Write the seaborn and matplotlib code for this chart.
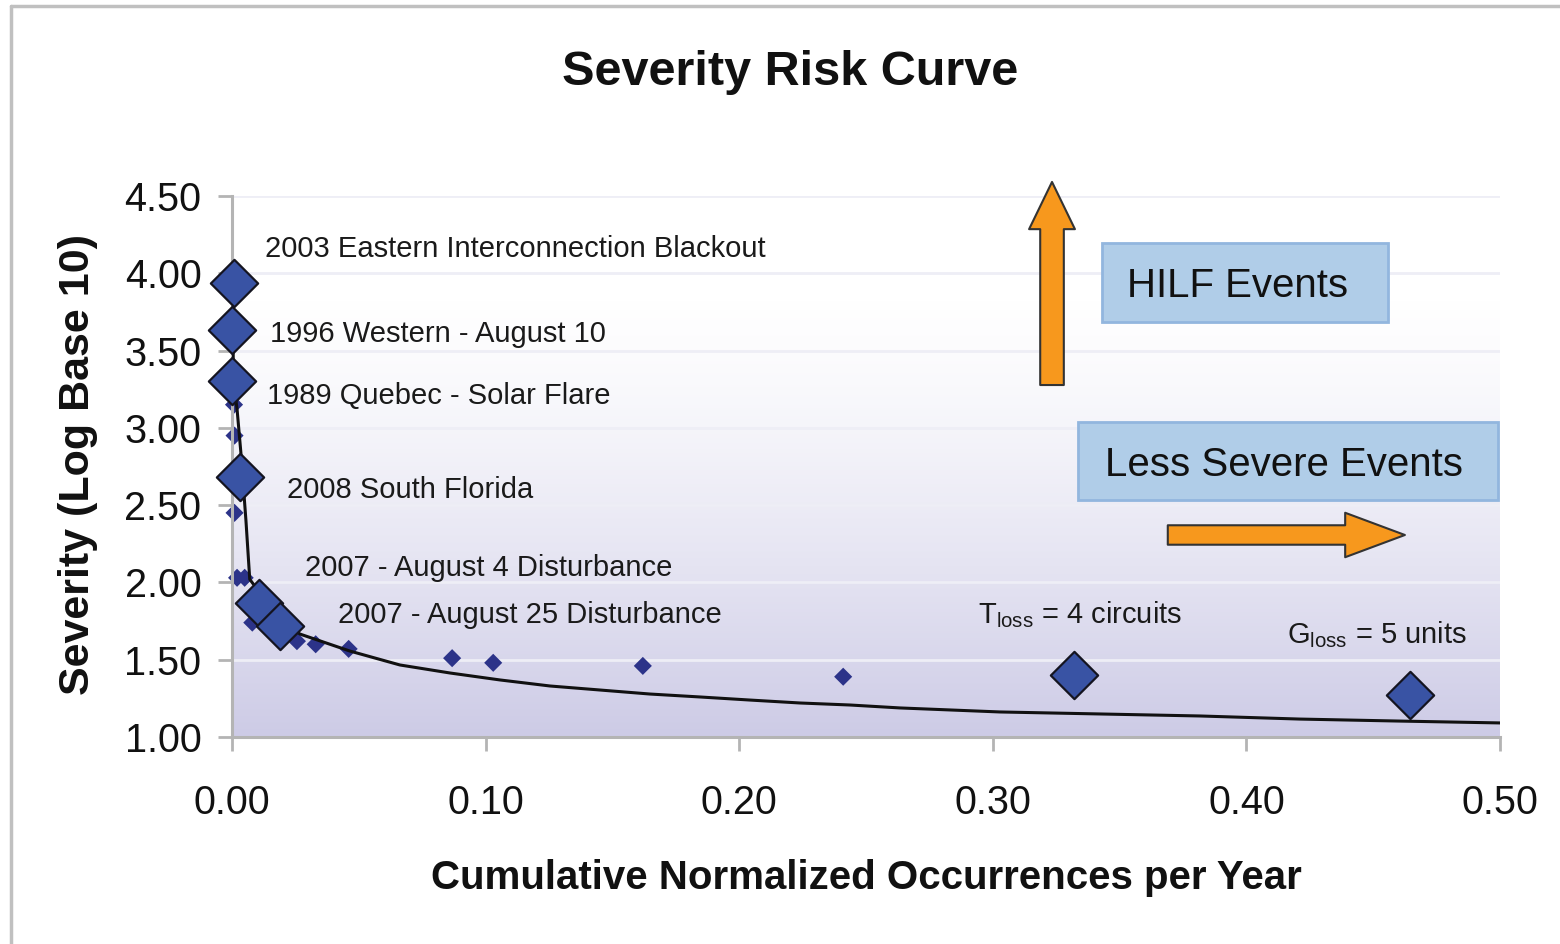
import matplotlib
matplotlib.use("Agg")
import numpy as np
import pandas as pd
import matplotlib.pyplot as plt
import seaborn as sns
from matplotlib import font_manager
from matplotlib.colors import LinearSegmentedColormap
from matplotlib.patches import Rectangle
from matplotlib.lines import Line2D

# ---- data -------------------------------------------------------------
event_names = [
    "2003 Eastern Interconnection Blackout",
    "1996 Western - August 10",
    "1989 Quebec - Solar Flare",
    "2008 South Florida",
    "2007 - August 4 Disturbance",
    "2007 - August 25 Disturbance",
    r"T$_{\mathrm{loss}}$ = 4 circuits",
    r"G$_{\mathrm{loss}}$ = 5 units",
]
event_x = [0.0008, 0.0000, 0.0000, 0.0030, 0.0106, 0.0190, 0.3320, 0.4645]
event_y = [3.94, 3.63, 3.30, 2.68, 1.87, 1.72, 1.40, 1.27]
label_x = [0.0130, 0.0150, 0.0138, 0.0217, 0.0288, 0.0418, 0.2942, 0.4160]
label_y = [4.157, 3.607, 3.206, 2.598, 2.093, 1.789, 1.789, 1.660]

minor_x = [0.0008, 0.0010, 0.0010, 0.0020, 0.0050, 0.0080, 0.0256,
           0.0330, 0.0460, 0.0868, 0.1030, 0.1620, 0.2410]
minor_y = [3.15, 2.95, 2.45, 2.03, 2.03, 1.74, 1.62,
           1.60, 1.57, 1.51, 1.48, 1.46, 1.39]

curve_x = [0.0004, 0.0005, 0.0020, 0.0035, 0.0055, 0.0070, 0.0130, 0.0200,
           0.0268, 0.0465, 0.0662, 0.0860, 0.1057, 0.1254, 0.1451, 0.1648,
           0.1845, 0.2043, 0.2240, 0.2437, 0.2634, 0.2831, 0.3028, 0.3423,
           0.3817, 0.4211, 0.4606, 0.5000]
curve_y = [3.89, 3.31, 3.12, 2.84, 2.40, 2.02, 1.89, 1.75,
           1.666, 1.556, 1.466, 1.414, 1.369, 1.330, 1.304, 1.278,
           1.259, 1.239, 1.220, 1.207, 1.188, 1.175, 1.162, 1.149,
           1.136, 1.116, 1.103, 1.091]

y_ticks = [1.00, 1.50, 2.00, 2.50, 3.00, 3.50, 4.00, 4.50]
x_ticks = [0.00, 0.10, 0.20, 0.30, 0.40, 0.50]

events = pd.DataFrame({"x": event_x, "y": event_y, "name": event_names})
minor = pd.DataFrame({"x": minor_x, "y": minor_y})
curve = pd.DataFrame({"x": curve_x, "y": curve_y})

# ---- style ------------------------------------------------------------
sns.set_theme(style="white")
plt.rcParams["font.family"] = ["Liberation Sans", "DejaVu Sans"]

installed = {f.name for f in font_manager.fontManager.ttflist}
if "Liberation Sans Narrow" in installed:
    label_font, label_size = "Liberation Sans Narrow", 25
else:
    label_font, label_size = "Liberation Sans", 21
plt.rcParams["mathtext.fontset"] = "custom"
plt.rcParams["mathtext.rm"] = label_font
plt.rcParams["mathtext.it"] = label_font

fig = plt.figure(figsize=(15.6, 9.44), dpi=100)
fig.patch.set_facecolor("white")
ax = fig.add_axes([232 / 1560, 1 - 737 / 944, 1268 / 1560, 541 / 944])
ax.set_facecolor("white")

# outer frame (top and left edges)
fig.add_artist(Line2D([10.5 / 1560, 1], [1 - 5.5 / 944] * 2, color="#c0c0c0", lw=2.5,
                      transform=fig.transFigure))
fig.add_artist(Line2D([10.5 / 1560] * 2, [0, 1 - 5.5 / 944], color="#c0c0c0", lw=2.5,
                      transform=fig.transFigure))

# plot-area background gradient (white to lavender)
grad_cmap = LinearSegmentedColormap.from_list("bg", ["#ffffff", "#cdcbe6"])
grad = (np.linspace(1, 0, 256) ** 1.35)[:, None]
ax.imshow(grad, cmap=grad_cmap, vmin=0, vmax=1, aspect="auto", origin="lower",
          extent=(0, 0.5, 1.0, 3.87), zorder=0, interpolation="bilinear")

# fitted risk curve and event points
sns.lineplot(data=curve, x="x", y="y", ax=ax, color="#111111", lw=2.2,
             zorder=3, sort=False)
sns.scatterplot(data=minor, x="x", y="y", ax=ax, marker="D", s=85,
                color="#2c3389", edgecolor="none", zorder=2)
sns.scatterplot(data=events, x="x", y="y", ax=ax, marker="D", s=580,
                color="#3953a4", edgecolor="#141420", linewidth=1.6, zorder=4)
for coll in ax.collections:
    coll.set_clip_on(False)

for name, lx, ly in zip(event_names, label_x, label_y):
    ax.text(lx, ly, name, fontsize=label_size, family=label_font, color="#1a1a1a",
            ha="left", va="center", zorder=5)

# axes, ticks, grid
ax.set_xlim(0, 0.5)
ax.set_ylim(1.0, 4.5)
ax.set_xticks(x_ticks)
ax.set_yticks(y_ticks)
ax.set_xticklabels([f"{v:.2f}" for v in x_ticks])
ax.set_yticklabels([f"{v:.2f}" for v in y_ticks])
ax.tick_params(axis="both", labelsize=28.5, colors="#b4b4b4", labelcolor="#111111",
               length=10, width=2, direction="out")
ax.tick_params(axis="y", pad=12, left=True)
ax.tick_params(axis="x", pad=24, bottom=True)
ax.yaxis.grid(True, color="#eeeef6", lw=2)
ax.xaxis.grid(False)
ax.set_axisbelow(True)
for side in ("top", "right"):
    ax.spines[side].set_visible(False)
for side in ("left", "bottom"):
    ax.spines[side].set_color("#b4b4b4")
    ax.spines[side].set_linewidth(2.2)

ax.set_xlabel("Cumulative Normalized Occurrences per Year", fontsize=29,
              fontweight="bold", color="#111111")
ax.set_ylabel("Severity (Log Base 10)", fontsize=31, fontweight="bold",
              color="#111111")
ax.xaxis.set_label_coords(0.5, -0.2606)
ax.xaxis.label.set_va("center")
ax.yaxis.set_label_coords(-0.1215, 0.503)
ax.yaxis.label.set_va("center")

ax.set_title("Severity Risk Curve", fontsize=35, fontweight="bold",
             color="#111111", x=0.44, y=1.229, va="center", pad=0)

# explanatory boxes
box_style = dict(facecolor="#b0cde8", edgecolor="#92b6de", lw=2,
                 transform=ax.transAxes, clip_on=False, zorder=5)
ax.add_patch(Rectangle((0.686, 0.767), 0.2257, 0.146, **box_style))
ax.text(0.7934, 0.834, "HILF Events", transform=ax.transAxes, fontsize=29,
        ha="center", va="center", color="#111111", zorder=6)
ax.add_patch(Rectangle((0.667, 0.438), 0.3314, 0.144, **box_style))
ax.text(0.8297, 0.5028, "Less Severe Events", transform=ax.transAxes, fontsize=29,
        ha="center", va="center", color="#111111", zorder=6)

# direction arrows
arrow_up = dict(arrowstyle="simple,head_length=34,head_width=33,tail_width=17",
                mutation_scale=1, fc="#f7981d", ec="#333333", lw=1.5,
                shrinkA=0, shrinkB=0)
ax.annotate("", xy=(0.6467, 1.026), xytext=(0.6467, 0.6506),
            xycoords="axes fraction", textcoords="axes fraction",
            arrowprops=arrow_up, annotation_clip=False, zorder=6)
arrow_right = dict(arrowstyle="simple,head_length=43,head_width=32,tail_width=14",
                   mutation_scale=1, fc="#f7981d", ec="#333333", lw=1.5,
                   shrinkA=0, shrinkB=0)
ax.annotate("", xy=(0.925, 0.3734), xytext=(0.738, 0.3734),
            xycoords="axes fraction", textcoords="axes fraction",
            arrowprops=arrow_right, annotation_clip=False, zorder=6)

fig.savefig("out.png", dpi=100, facecolor="white")
